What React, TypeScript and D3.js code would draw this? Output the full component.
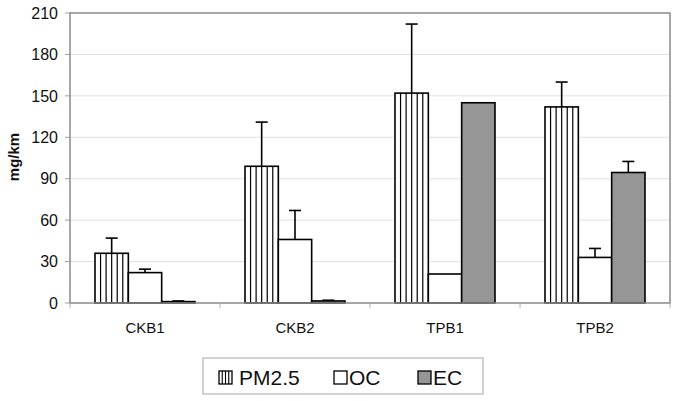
import React from "react";
import * as d3 from "d3";

const categories = ["CKB1", "CKB2", "TPB1", "TPB2"];
const seriesNames = ["PM2.5", "OC", "EC"];
const pm25 = [36, 99, 152, 142];
const pm25Err = [11, 32, 50, 18];
const oc = [22, 46, 21, 33];
const ocErr = [2.5, 21, 0, 6.5];
const ec = [1, 1.5, 145, 94.5];
const ecErr = [0.5, 0.5, 0, 8];
const yTicks = [0, 30, 60, 90, 120, 150, 180, 210];

const W = 678;
const H = 401;
const left = 70;
const right = 670;
const top = 13;
const bottom = 303;
const FONT = "Arial, 'Liberation Sans', sans-serif";

export default function App() {
  const x = d3.scaleBand<string>().domain(categories).range([left, right]).paddingInner(0).paddingOuter(0);
  const inner = d3.scaleBand<string>().domain(seriesNames).range([0, x.bandwidth()]).paddingOuter(0.75).paddingInner(0);
  const y = d3.scaleLinear().domain([0, 210]).range([bottom, top]);

  const values = [pm25, oc, ec];
  const errs = [pm25Err, ocErr, ecErr];
  const fills = ["#ffffff", "#ffffff", "#969696"];

  const bars: React.ReactNode[] = [];
  categories.forEach((c, ci) => {
    seriesNames.forEach((s, si) => {
      const v = values[si][ci];
      const bx = (x(c) as number) + (inner(s) as number);
      const bw = inner.bandwidth();
      const by = y(v);
      const bh = y(0) - y(v);
      bars.push(
        <rect key={`b-${c}-${s}`} x={bx} y={by} width={bw} height={bh} fill={fills[si]} stroke="#000" strokeWidth={1.6} />
      );
      if (si === 0) {
        d3.range(1, 6).forEach((k) => {
          const lx = bx + (bw * k) / 6;
          bars.push(<line key={`s-${c}-${k}`} x1={lx} x2={lx} y1={by} y2={y(0)} stroke="#000" strokeWidth={1.2} />);
        });
      }
      const e = errs[si][ci];
      if (e > 0) {
        const cx = bx + bw / 2;
        bars.push(
          <g key={`e-${c}-${s}`} stroke="#000" strokeWidth={1.6}>
            <line x1={cx} x2={cx} y1={by} y2={y(v + e)} />
            <line x1={cx - 6} x2={cx + 6} y1={y(v + e)} y2={y(v + e)} />
          </g>
        );
      }
    });
  });

  const legendItems = [
    { name: "PM2.5", sx: 219, tx: 239 },
    { name: "OC", sx: 334, tx: 349 },
    { name: "EC", sx: 418, tx: 433 },
  ];

  return (
    <svg width={W} height={H} style={{ position: "absolute", left: 0, top: 0, background: "#fff" }} fontFamily={FONT}>
      <rect x={0} y={0} width={W} height={H} fill="#fff" />
      {yTicks.map((t) => (
        <g key={`g-${t}`}>
          {t > 0 && t < 210 && <line x1={left} x2={right} y1={y(t)} y2={y(t)} stroke="#e2e2e2" strokeWidth={1} />}
          <line x1={left - 5} x2={left} y1={y(t)} y2={y(t)} stroke="#a0a0a0" strokeWidth={1} />
          <text x={58} y={y(t)} dy="0.36em" textAnchor="end" fontSize={16} fill="#111">{t}</text>
        </g>
      ))}
      {bars}
      <rect x={left} y={top} width={right - left} height={bottom - top} fill="none" stroke="#8a8a8a" strokeWidth={1.5} />
      {d3.range(categories.length + 1).map((i) => {
        const tx = left + i * x.bandwidth();
        return <line key={`xt-${i}`} x1={tx} x2={tx} y1={bottom} y2={bottom + 5} stroke="#b0b0b0" strokeWidth={1} />;
      })}
      {categories.map((c) => (
        <text key={`xl-${c}`} x={(x(c) as number) + x.bandwidth() / 2} y={333} textAnchor="middle" fontSize={15} fill="#111">{c}</text>
      ))}
      <text transform={`translate(19,157) rotate(-90)`} textAnchor="middle" fontSize={15} fontWeight="bold" fill="#111">mg/km</text>
      <rect x={203} y={358} width={280} height={36} fill="#fff" stroke="#b4b4b4" strokeWidth={1.2} />
      {legendItems.map((it, i) => (
        <g key={`lg-${it.name}`}>
          <rect x={it.sx} y={371} width={13} height={13} fill={fills[i]} stroke="#000" strokeWidth={1.3} />
          {i === 0 && d3.range(1, 4).map((k) => (
            <line key={`ls-${k}`} x1={it.sx + (13 * k) / 4} x2={it.sx + (13 * k) / 4} y1={371} y2={384} stroke="#000" strokeWidth={1.1} />
          ))}
          <text x={it.tx} y={385} fontSize={21} fill="#111">{it.name}</text>
        </g>
      ))}
    </svg>
  );
}
